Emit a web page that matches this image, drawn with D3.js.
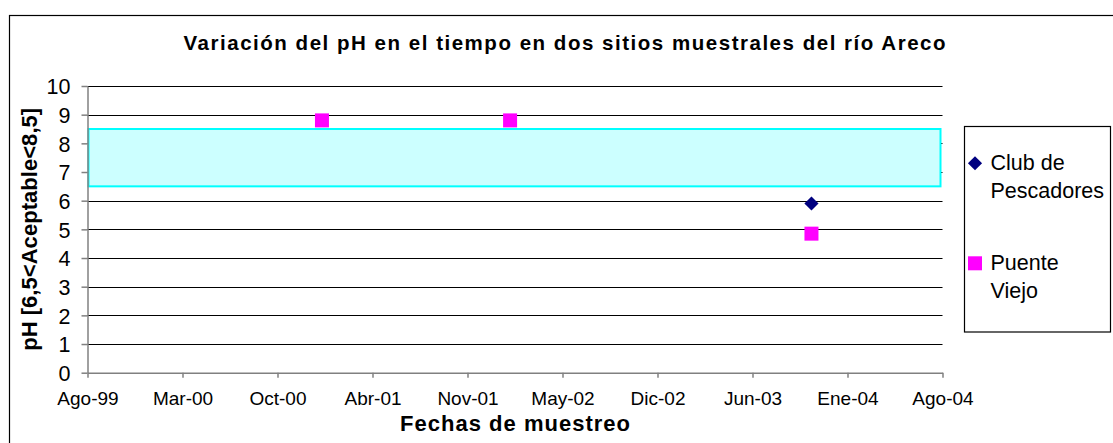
<!DOCTYPE html>
<html>
<head>
<meta charset="utf-8">
<script src="https://cdn.jsdelivr.net/npm/d3@7"></script>
<style>
  html, body { margin: 0; padding: 0; background: #fff; }
  svg { display: block; font-family: "Liberation Sans", Arial, sans-serif; }
</style>
</head>
<body>
<div id="chart"></div>
<script>
// data
const xTickLabels = ['Ago-99', 'Mar-00', 'Oct-00', 'Abr-01', 'Nov-01', 'May-02', 'Dic-02', 'Jun-03', 'Ene-04', 'Ago-04'];
const xDomain = ['1999-08-01', '2004-08-01'];
const yTicks = [0, 1, 2, 3, 4, 5, 6, 7, 8, 9, 10];

const clubDates = ['2003-10-26'];
const clubValues = [5.9];

const puenteDates = ['2000-12-14', '2002-01-20', '2003-10-26'];
const puenteValues = [8.8, 8.8, 4.85];

const acceptable = [6.5, 8.5];

const seriesNames = ['Club de Pescadores', 'Puente Viejo'];
const legendLines = [['Club de', 'Pescadores'], ['Puente', 'Viejo']];

const
  WIDTH = 1113,
  HEIGHT = 443;

const margin = { left: 87.5, right: 170.5, top: 86, bottom: 70.3 };
const chartWidth = WIDTH - margin.left - margin.right;
const chartHeight = HEIGHT - margin.top - margin.bottom;

const parse = d3.timeParse('%Y-%m-%d');

const svg = d3.select('#chart')
  .append('svg')
  .attr('width', WIDTH)
  .attr('height', HEIGHT);

// outer chart border
svg.append('rect')
  .attr('x', 9.5).attr('y', 15.5)
  .attr('width', 1120).attr('height', 450)
  .attr('fill', '#fff')
  .attr('stroke', '#000')
  .attr('stroke-width', 1.2);

const xScale = d3.scaleTime()
  .domain(xDomain.map(parse))
  .range([0, chartWidth]);

const yScale = d3.scaleLinear()
  .domain([0, 10])
  .range([chartHeight, 0]);

const g = svg.append('g')
  .attr('transform', `translate(${margin.left},${margin.top})`);

// grid
g.append('g')
  .attr('class', 'grid')
  .selectAll('line')
  .data(yTicks.filter(d => d > 0))
  .enter()
  .append('line')
  .attr('x1', 0)
  .attr('x2', chartWidth)
  .attr('y1', d => Math.round(yScale(d)) + 0.5)
  .attr('y2', d => Math.round(yScale(d)) + 0.5)
  .attr('stroke', '#000')
  .attr('stroke-width', 1);

// acceptable band
g.append('rect')
  .attr('x', xScale.range()[0] + 1)
  .attr('y', yScale(acceptable[1]))
  .attr('width', chartWidth - 3)
  .attr('height', yScale(acceptable[0]) - yScale(acceptable[1]))
  .attr('fill', '#ccffff')
  .attr('stroke', '#00ffff')
  .attr('stroke-width', 2);

// x axis, ticks evenly spaced across the domain like Excel's date axis
const [d0, d1] = xScale.domain();
const xTickValues = xTickLabels.map((l, i) =>
  new Date(+d0 + (d1 - d0) * i / (xTickLabels.length - 1)));

const xAxis = d3.axisBottom(xScale)
  .tickValues(xTickValues)
  .tickFormat((d, i) => xTickLabels[i])
  .tickSizeInner(5)
  .tickSizeOuter(0)
  .tickPadding(14);

const xAxisGroup = g.append('g')
  .attr('class', 'axis axis-x')
  .attr('transform', `translate(0,${chartHeight})`)
  .call(xAxis);

xAxisGroup.select('.domain').attr('stroke', '#808080').attr('stroke-width', 1.5);
xAxisGroup.selectAll('.tick line').attr('stroke', '#808080').attr('stroke-width', 1.5);
xAxisGroup.selectAll('text')
  .attr('fill', '#000')
  .style('font-size', '19px');

// y axis
const yAxis = d3.axisLeft(yScale)
  .tickValues(yTicks)
  .tickFormat(d3.format('d'))
  .tickSizeInner(6)
  .tickSizeOuter(0)
  .tickPadding(11);

const yAxisGroup = g.append('g')
  .attr('class', 'axis axis-y')
  .call(yAxis);

yAxisGroup.select('.domain').attr('stroke', '#808080').attr('stroke-width', 1.5);
yAxisGroup.selectAll('.tick line').attr('stroke', '#808080').attr('stroke-width', 1.5);
yAxisGroup.selectAll('text')
  .attr('fill', '#000')
  .attr('dy', '0.36em')
  .style('font-size', '21.5px');

// points
const symbolDiamond = d3.symbol().type(d3.symbolSquare).size(100);

g.append('g')
  .selectAll('path')
  .data(clubDates.map((d, i) => ({ date: parse(d), value: clubValues[i] })))
  .enter()
  .append('path')
  .attr('d', symbolDiamond)
  .attr('transform', d => `translate(${xScale(d.date)},${yScale(d.value)}) rotate(45)`)
  .attr('fill', '#000080');

g.append('g')
  .selectAll('rect')
  .data(puenteDates.map((d, i) => ({ date: parse(d), value: puenteValues[i] })))
  .enter()
  .append('rect')
  .attr('x', d => xScale(d.date) - 7)
  .attr('y', d => yScale(d.value) - 7)
  .attr('width', 14)
  .attr('height', 14)
  .attr('fill', '#ff00ff');

// titles
svg.append('text')
  .attr('x', 564.5)
  .attr('y', 50)
  .attr('text-anchor', 'middle')
  .attr('textLength', 762)
  .attr('lengthAdjust', 'spacing')
  .style('font-size', '20.5px')
  .style('font-weight', 'bold')
  .text('Variación del pH en el tiempo en dos sitios muestrales del río Areco');

svg.append('text')
  .attr('x', margin.left + chartWidth / 2)
  .attr('y', 431)
  .attr('text-anchor', 'middle')
  .attr('textLength', 230)
  .attr('lengthAdjust', 'spacing')
  .style('font-size', '22px')
  .style('font-weight', 'bold')
  .text('Fechas de muestreo');

svg.append('text')
  .attr('transform', `translate(37,${margin.top + chartHeight / 2}) rotate(-90)`)
  .attr('text-anchor', 'middle')
  .attr('textLength', 243)
  .attr('lengthAdjust', 'spacing')
  .style('font-size', '22px')
  .style('font-weight', 'bold')
  .text('pH [6,5<Aceptable<8,5]');

// legend
const legend = svg.append('g').attr('class', 'legend');

legend.append('rect')
  .attr('x', 964.5).attr('y', 126.5)
  .attr('width', 146).attr('height', 205.5)
  .attr('fill', '#fff')
  .attr('stroke', '#000')
  .attr('stroke-width', 1.2);

const legendItems = legend.selectAll('.legend-item')
  .data(seriesNames)
  .enter()
  .append('g')
  .attr('class', 'legend-item')
  .attr('transform', (d, i) => `translate(975,${163.3 + i * 100})`);

legendItems.filter((d, i) => i === 0)
  .append('path')
  .attr('d', symbolDiamond)
  .attr('transform', 'rotate(45)')
  .attr('fill', '#000080');

legendItems.filter((d, i) => i === 1)
  .append('rect')
  .attr('x', -7).attr('y', -7)
  .attr('width', 14).attr('height', 14)
  .attr('fill', '#ff00ff');

legendItems.each(function (d, i) {
  const t = d3.select(this).append('text')
    .attr('x', 15.5)
    .attr('y', 6.5)
    .style('font-size', '21.5px');
  legendLines[i].forEach((line, j) => {
    t.append('tspan')
      .attr('x', 15.5)
      .attr('dy', j === 0 ? 0 : 28)
      .text(line);
  });
});
</script>
</body>
</html>
